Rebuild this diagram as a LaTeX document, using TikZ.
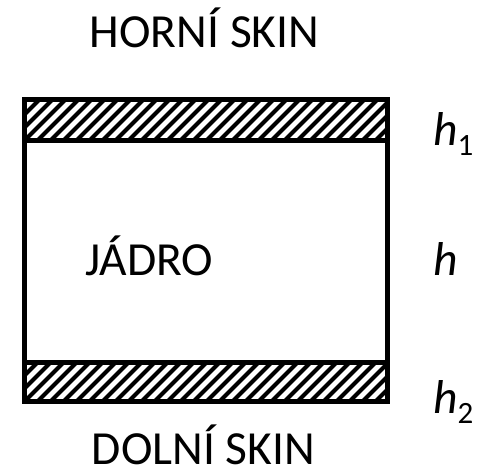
\documentclass[tikz,border=0pt]{standalone}
\usepackage{fontspec}
\setmainfont{Carlito}
\usepackage{tikz}
\usetikzlibrary{positioning, calc}

\tikzset{
    bigtext/.style={font=\fontsize{47.5}{47.5}\selectfont, inner sep=0pt},
    wall/.style={line width=5pt, line join=miter},
    hatchline/.style={line width=4pt}
}
\newcommand{\thick}[1]{\textit{h}\raisebox{-10pt}{\fontsize{31}{31}\selectfont #1}}

\begin{document}
\begin{tikzpicture}[x=1pt, y=-1pt]
    \useasboundingbox (0,0) rectangle (477,474);

    % Hatching of the two skins
    \begin{scope}
        \clip (24,99) rectangle (387,140);
        \foreach \x in {-40,-27,...,400} {
            \draw[hatchline] (\x,140) -- (\x+41,99);
        }
    \end{scope}
    \begin{scope}
        \clip (24,362) rectangle (387,401);
        \foreach \x in {-40,-27,...,400} {
            \draw[hatchline] (\x,401) -- (\x+39,362);
        }
    \end{scope}

    % Panel outline
    \draw[wall] (24,99) rectangle (387,401);
    \draw[wall] (24,140) -- (387,140);
    \draw[wall] (24,362) -- (387,362);

    % Labels
    \node[bigtext, anchor=base] (top) at (204.5,47) {HORNÍ SKIN};
    \node[bigtext, anchor=base] (bottom) at (203.5,464) {DOLNÍ SKIN};
    \node[bigtext, anchor=base west] (core) at (85,275) {JÁDRO};

    % Thicknesses
    \node[bigtext, anchor=base west] (hone) at (433,145) {\thick{1}};
    \node[bigtext, anchor=base west] (hmid) at (433,275) {\textit{h}};
    \node[bigtext, anchor=base west] (htwo) at (433,413) {\thick{2}};
\end{tikzpicture}
\end{document}
